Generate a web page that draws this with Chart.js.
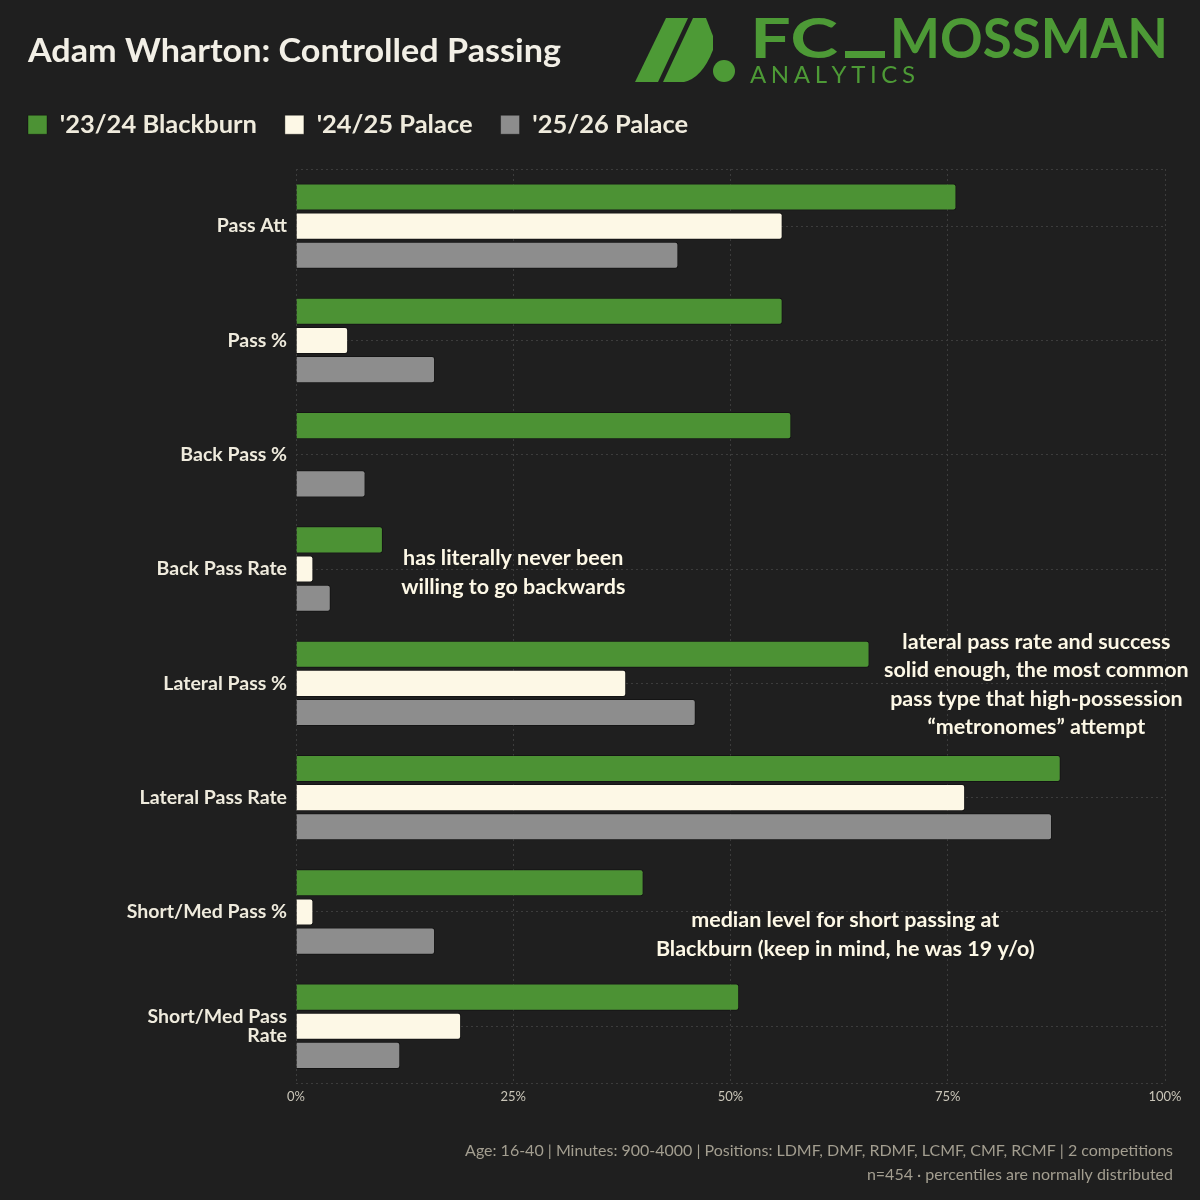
<!DOCTYPE html>
<html>
<head>
<meta charset="utf-8">
<script src="https://cdn.jsdelivr.net/npm/chart.js@4.4.1/dist/chart.umd.min.js"></script>
<style>
  html, body { margin: 0; padding: 0; background: #1f1f1f; }
  canvas { display: block; }
</style>
</head>
<body>
<canvas id="graficaPases" width="1200" height="1200"></canvas>
<script>
// Datos (percentiles)
const categorias = [
    "Pass Att",
    "Pass %",
    "Back Pass %",
    "Back Pass Rate",
    "Lateral Pass %",
    "Lateral Pass Rate",
    "Short/Med Pass %",
    ["Short/Med Pass", "Rate"],
];
const temporadas = ["'23/24 Blackburn", "'24/25 Palace", "'25/26 Palace"];
const blackburn2324 = [76, 56, 57, 10, 66, 88, 40, 51];
const palace2425 = [56, 6, 0, 2, 38, 77, 2, 19];
const palace2526 = [44, 16, 8, 4, 46, 87, 16, 12];
const ticksX = [0, 25, 50, 75, 100];

const titulo = "Adam Wharton: Controlled Passing";
const pie = [
    "Age: 16-40 | Minutes: 900-4000 | Positions: LDMF, DMF, RDMF, LCMF, CMF, RCMF | 2 competitions",
    "n=454 · percentiles are normally distributed",
];
const notas = [
    ["has literally never been", "willing to go backwards"],
    ["lateral pass rate and success", "solid enough, the most common", "pass type that high-possession", "\u201cmetronomes\u201d attempt"],
    ["median level for short passing at", "Blackburn (keep in mind, he was 19 y/o)"],
];

const FONDO = "#1f1f1f";
const VERDE = "#4c9234";
const CREMA = "#fdf8e6";
const GRIS = "#8d8d8d";
const TEXTO = "#efebdd";
const REJILLA = "#3c3c3c";

// Texto escalado a un ancho concreto
function textoAncho(ctx, texto, x, y, ancho) {
    const w = ctx.measureText(texto).width;
    ctx.save();
    ctx.translate(x, y);
    ctx.scale(ancho / w, 1);
    ctx.fillText(texto, 0, 0);
    ctx.restore();
}

// Cabecera, logo, pie y notas dibujados a mano sobre el canvas
const decoracion = {
    id: "decoracion",
    beforeInit(chart) {
        // Alto fijo para la leyenda, así el área de la gráfica empieza donde toca
        const fitOriginal = chart.legend.fit;
        chart.legend.fit = function () {
            fitOriginal.bind(chart.legend)();
            this.height = 85;
        };
    },
    beforeDraw(chart) {
        const ctx = chart.ctx;
        ctx.save();
        ctx.fillStyle = FONDO;
        ctx.fillRect(0, 0, chart.width, chart.height);

        // Título
        ctx.fillStyle = "#f2efe6";
        ctx.font = "bold 33px Lato";
        ctx.textBaseline = "middle";
        ctx.textAlign = "left";
        textoAncho(ctx, titulo, 28, 51, 533);

        // Logo FC_MOSSMAN
        ctx.fillStyle = "#4d9a36";
        ctx.beginPath();
        ctx.moveTo(635, 82); ctx.lineTo(658, 82); ctx.lineTo(688, 18); ctx.lineTo(666, 18);
        ctx.closePath(); ctx.fill();
        ctx.beginPath();
        ctx.moveTo(663, 82); ctx.lineTo(684, 82);
        ctx.quadraticCurveTo(702, 78, 713, 50);
        ctx.lineTo(713, 36); ctx.lineTo(706, 18); ctx.lineTo(693, 18);
        ctx.closePath(); ctx.fill();
        ctx.beginPath();
        ctx.arc(724, 71, 11, 0, Math.PI * 2);
        ctx.fill();

        ctx.textBaseline = "alphabetic";
        ctx.font = "bold 56px Lato";
        textoAncho(ctx, "FC", 750, 58, 88);
        ctx.fillRect(845, 51, 40, 7);
        textoAncho(ctx, "MOSSMAN", 890, 58, 278);

        ctx.font = "24px Lato";
        const letras = "ANALYTICS".split("");
        const anchoLetras = letras.reduce((s, l) => s + ctx.measureText(l).width, 0);
        const hueco = (165 - anchoLetras) / (letras.length - 1);
        let x = 750;
        letras.forEach((l) => {
            ctx.fillText(l, x, 83);
            x += ctx.measureText(l).width + hueco;
        });
        ctx.restore();
    },
    beforeDatasetsDraw(chart) {
        // líneas punteadas arriba y abajo del área
        const { ctx, chartArea } = chart;
        ctx.save();
        ctx.strokeStyle = REJILLA;
        ctx.lineWidth = 1;
        ctx.setLineDash([2, 3]);
        [chartArea.top, chartArea.bottom].forEach((y) => {
            ctx.beginPath();
            ctx.moveTo(chartArea.left, Math.round(y) + 0.5);
            ctx.lineTo(chartArea.right, Math.round(y) + 0.5);
            ctx.stroke();
        });
        ctx.restore();
    },
    afterDraw(chart) {
        const ctx = chart.ctx;
        const xS = chart.scales.x;
        const yS = chart.scales.y;
        ctx.save();

        // Notas (posición en % y en índice de categoría)
        const anclas = [
            { x: 25, y: 3.03 },
            { x: 85.2, y: 4.01 },
            { x: 63.2, y: 6.2 },
        ];
        ctx.fillStyle = CREMA;
        ctx.font = "bold 21.5px Lato";
        ctx.textAlign = "center";
        ctx.textBaseline = "middle";
        notas.forEach((lineas, i) => {
            const cx = xS.getPixelForValue(anclas[i].x);
            const cy = yS.getPixelForValue(anclas[i].y);
            const alto = 28.6;
            const y0 = cy - ((lineas.length - 1) * alto) / 2;
            lineas.forEach((t, j) => ctx.fillText(t, cx, y0 + j * alto));
        });

        // Pie
        ctx.fillStyle = "#a39e90";
        ctx.font = "16px Lato";
        ctx.textAlign = "right";
        ctx.fillText(pie[0], 1173, 1151);
        ctx.fillText(pie[1], 1173, 1175);
        ctx.restore();
    },
};

const ctx = document.getElementById("graficaPases").getContext("2d");

const estiloBarra = {
    borderWidth: 1,
    borderColor: "rgba(0,0,0,0.35)",
    borderRadius: 3,
    barPercentage: 0.93,
    categoryPercentage: 0.765,
};

window.chartPases = new Chart(ctx, {
    type: "bar",
    data: {
        labels: categorias,
        datasets: [
            { label: temporadas[0], data: blackburn2324, backgroundColor: VERDE, ...estiloBarra },
            { label: temporadas[1], data: palace2425, backgroundColor: CREMA, ...estiloBarra },
            { label: temporadas[2], data: palace2526, backgroundColor: GRIS, ...estiloBarra },
        ],
    },
    options: {
        indexAxis: "y",
        responsive: false,
        animation: false,
        layout: { padding: { top: 84, right: 35, bottom: 89, left: 0 } },
        plugins: {
            title: { display: false },
            tooltip: { enabled: false },
            legend: {
                display: true,
                position: "top",
                align: "start",
                labels: {
                    boxWidth: 19,
                    boxHeight: 19,
                    padding: 28,
                    color: TEXTO,
                    font: { family: "Lato", size: 25.5, weight: "bold" },
                },
            },
        },
        scales: {
            x: {
                min: 0,
                max: 100,
                afterBuildTicks: (s) => { s.ticks = ticksX.map((v) => ({ value: v })); },
                ticks: {
                    color: "#c9c5b8",
                    padding: 6,
                    font: { family: "Lato", size: 13 },
                    callback: (v) => v + "%",
                },
                grid: { color: REJILLA, drawTicks: false },
                border: { display: false, dash: [2, 3] },
            },
            y: {
                afterFit: (s) => { s.width = 296; },
                ticks: {
                    color: TEXTO,
                    padding: 9,
                    font: { family: "Lato", size: 19.5, weight: "bold", lineHeight: 0.97 },
                },
                grid: { color: REJILLA, drawTicks: false, offset: false },
                border: { display: false, dash: [2, 3] },
            },
        },
    },
    plugins: [decoracion],
});
</script>
</body>
</html>
